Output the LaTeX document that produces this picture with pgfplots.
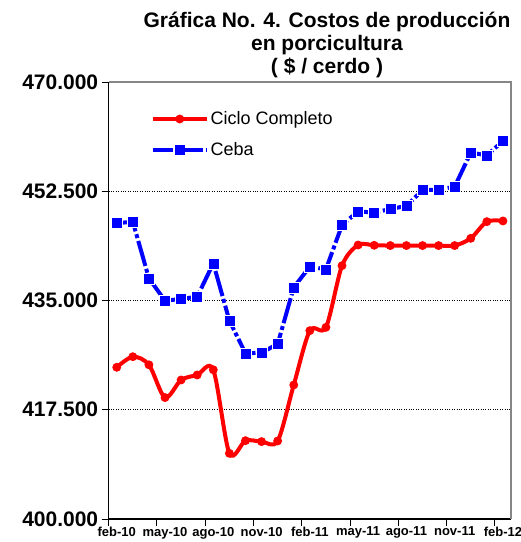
\documentclass[border=0pt]{standalone}
\usepackage{fontspec}
\setmainfont{Liberation Sans}
\usepackage{pgfplots}
\pgfplotsset{compat=1.18}

\definecolor{framegray}{RGB}{134,134,134}

\pgfplotstableread{
idx ciclo  ceba
0   424300 447400
1   426000 447600
2   424700 438550
3   419450 434970
4   422270 435240
5   423070 435600
6   423900 440960
7   410520 431770
8   412550 426540
9   412400 426640
10  412500 428030
11  421470 437110
12  430170 440420
13  430700 440000
14  440580 447100
15  443890 449280
16  443840 449070
17  443800 449660
18  443800 450140
19  443800 452700
20  443800 452750
21  443800 453230
22  444960 458680
23  447630 458260
24  447740 460550
}\costos

\begin{document}
\begin{tikzpicture}
\useasboundingbox (-108.7pt,-23pt) rectangle (412.3pt,519pt);
\begin{axis}[
  scale only axis,
  width=402.3pt, height=437pt,
  at={(0pt,0pt)}, anchor=south west,
  xmin=-0.5, xmax=24.5,
  ymin=400000, ymax=470000,
  axis x line*=bottom, axis y line*=left,
  axis line style={black, line width=1.2pt},
  tick align=outside,
  major tick length=7pt, minor tick length=7pt,
  tick style={black, line width=1pt},
  ytick={400000,417500,435000,452500,470000},
  scaled y ticks=false,
  ymajorgrids,
  major grid style={black, dotted, line width=0.7pt},
  yticklabel style={font=\fontsize{21}{21}\selectfont\bfseries,
    /pgf/number format/.cd, fixed, precision=0, 1000 sep={.}, assume math mode=true},
  xtick={0,3,...,24},
  xticklabels={feb-10,may-10,ago-10,nov-10,feb-11,may-11,ago-11,nov-11,feb-12},
  major x tick style={draw=none},
  minor xtick={-0.5,2.5,...,23.5},
  xticklabel style={font=\fontsize{13}{13}\selectfont\bfseries, yshift=2.5pt},
  legend image code/.code={\draw[mark repeat=2,mark phase=2,#1] plot coordinates {(0pt,0pt) (27pt,0pt) (54pt,0pt)};},
  legend style={at={(0.104,0.937)}, anchor=north west, draw=none, fill=none,
    font=\fontsize{18}{18}\selectfont, row sep=12pt, inner xsep=0pt, inner ysep=0pt,
    nodes={inner sep=2pt}},
  legend cell align=left,
  clip=false,
]
\draw[framegray, line width=1.2pt] (rel axis cs:0,1) -- (rel axis cs:1,1) -- (rel axis cs:1,0);

\addplot[forget plot, red, line width=4pt, smooth, mark=*, mark size=2.3pt]
  table[x=idx, y=ciclo] {\costos};
\addplot[forget plot, blue, line width=4pt, dash pattern=on 26pt off 3pt on 4pt off 3pt,
  mark=square*, mark size=5.5pt, mark options={solid, fill=blue, draw=white, line width=0.5pt}]
  table[x=idx, y=ceba] {\costos};

\addlegendimage{red, line width=4pt, mark=*, mark size=2.3pt}
\addlegendentry{Ciclo Completo}
\addlegendimage{blue, line width=4pt, dash pattern=on 20pt off 3pt on 4pt off 3pt,
  mark=square*, mark size=3pt, mark options={solid}}
\addlegendentry{Ceba}
\end{axis}
\node[font=\fontsize{21}{23}\selectfont\bfseries, align=center] at (218.3pt,474pt)
  {Gráfica No. 4. Costos de producción\\en porcicultura\\( \$ / cerdo )};
\end{tikzpicture}
\end{document}
